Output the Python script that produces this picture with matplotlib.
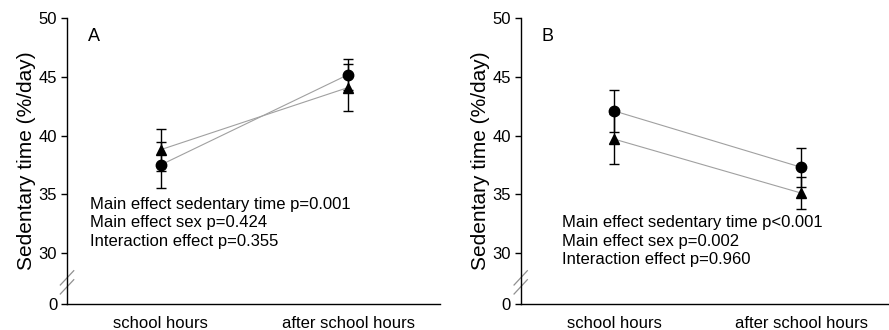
import numpy as np
import matplotlib
matplotlib.use("Agg")
import matplotlib.pyplot as plt
from matplotlib.transforms import blended_transform_factory

plt.rcParams['font.family'] = ['Liberation Sans', 'DejaVu Sans']

# ---- data ----
categories = ['school hours', 'after school hours']
panels = ['A', 'B']

circle_mean = {'A': [37.5, 45.2], 'B': [42.1, 37.3]}
circle_err = {'A': [1.95, 1.3], 'B': [1.8, 1.65]}
triangle_mean = {'A': [38.8, 44.1], 'B': [39.7, 35.1]}
triangle_err = {'A': [1.8, 2.0], 'B': [2.1, 1.4]}

stats_text = {
    'A': ['Main effect sedentary time p=0.001',
          'Main effect sex p=0.424',
          'Interaction effect p=0.355'],
    'B': ['Main effect sedentary time p<0.001',
          'Main effect sex p=0.002',
          'Interaction effect p=0.960'],
}

y_ticks = [30, 35, 40, 45, 50]
y_break = 25.64  # axis bottom, labelled "0"

fig = plt.figure(figsize=(8.89, 3.3), dpi=100)
ax_rects = {'A': [0.0754, 0.0788, 0.4196, 0.8657],
            'B': [0.5857, 0.0788, 0.4143, 0.8657]}
xlims = {'A': (0.5, 2.49), 'B': (0.5, 2.47)}
text_x = {'A': 0.62, 'B': 0.72}
text_y = {'A': 0.375, 'B': 0.31}

x = np.arange(1, len(categories) + 1)

for p in panels:
    ax = fig.add_axes(ax_rects[p])
    ax.plot(x, circle_mean[p], color='#a0a0a0', lw=0.8, zorder=1)
    ax.plot(x, triangle_mean[p], color='#a0a0a0', lw=0.8, zorder=1)
    ax.errorbar(x, circle_mean[p], yerr=circle_err[p], fmt='o', color='black',
                ms=7.5, elinewidth=1.0, capsize=3.5, capthick=1.0, zorder=3)
    ax.errorbar(x, triangle_mean[p], yerr=triangle_err[p], fmt='^', color='black',
                ms=7.5, elinewidth=1.0, capsize=3.5, capthick=1.0, zorder=3)

    ax.set_xlim(*xlims[p])
    ax.set_ylim(y_break, 50)
    ax.set_xticks(x)
    ax.set_xticklabels(categories, fontsize=12)
    ax.tick_params(axis='x', length=0, pad=9)
    ax.set_yticks([y_break] + y_ticks)
    ax.set_yticklabels(['0'] + [str(t) for t in y_ticks], fontsize=12)
    ax.tick_params(axis='y', direction='out', length=4, width=1, pad=3)
    ax.set_ylabel('Sedentary time (%/day)', fontsize=15, labelpad=2)
    for s in ['top', 'right']:
        ax.spines[s].set_visible(False)
    for s in ['left', 'bottom']:
        ax.spines[s].set_linewidth(1.0)

    # axis break marks
    for dy in [0.0, 0.9]:
        ax.plot([-0.018, 0.018], [0.035 + dy * 0.035, 0.085 + dy * 0.035],
                transform=ax.transAxes, color='#909090', lw=0.9, clip_on=False)

    ax.text(0.056, 0.935, p, transform=ax.transAxes, fontsize=13,
            va='center', ha='left')
    ax.text(text_x[p], text_y[p], '\n'.join(stats_text[p]), fontsize=12,
            va='top', ha='left', linespacing=1.28,
            transform=blended_transform_factory(ax.transData, ax.transAxes))

fig.savefig('out.png', dpi=100)
